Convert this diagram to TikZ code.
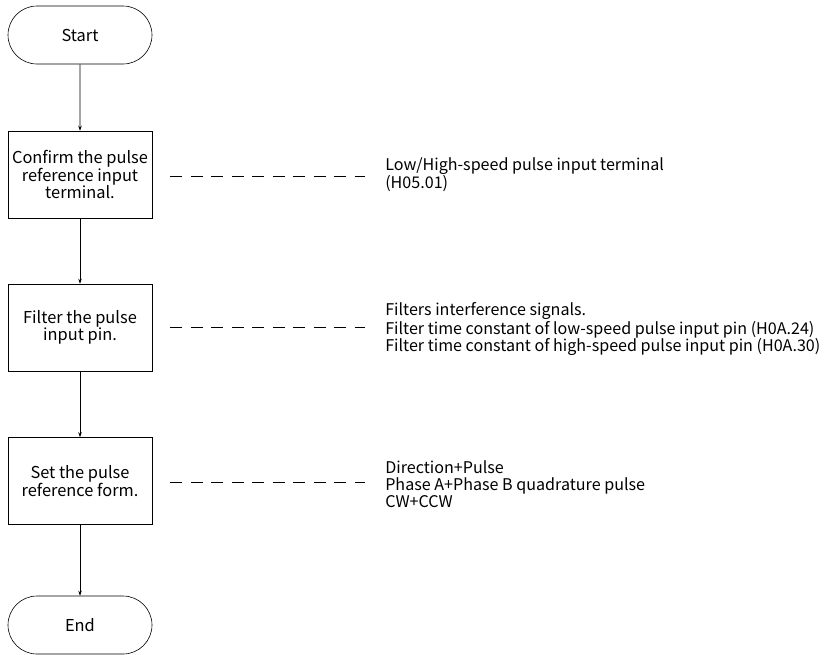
\documentclass[tikz,border=0pt]{standalone}
\usepackage{fontspec}
\setmainfont{Noto Sans CJK SC}
\usetikzlibrary{arrows.meta,shapes.misc}

\begin{document}
\begin{tikzpicture}[x=1pt, y=-1pt, >={Stealth[length=5pt,width=3.5pt]},
  font=\fontsize{16.1}{17}\selectfont, line width=0.6pt,
  terminal/.style={draw, rounded rectangle, minimum width=144pt, minimum height=58pt, inner sep=0pt,
    font=\fontsize{16.4}{17}\selectfont},
  stepbox/.style={draw, rectangle, minimum width=144pt, minimum height=87pt, align=center, inner sep=2pt,
    font=\fontsize{16.4}{17}\selectfont},
  note/.style={anchor=west, align=left, inner sep=0pt},
  link/.style={dash pattern=on 12pt off 8.5pt}]

  % Page frame
  \useasboundingbox (0,0) rectangle (834,654);

  % Parameters
  \def\colx{80}     % centre of the flow column
  \def\notex{385}   % left edge of the notes

  % Flow column
  \node[terminal] (start) at (\colx,35) {Start};
  \node[stepbox] (confirm) at (\colx,174.5) {Confirm the pulse\\reference input\\terminal.};
  \node[stepbox] (filter) at (\colx,327.5) {Filter the pulse\\input pin.};
  \node[stepbox] (form) at (\colx,481) {Set the pulse\\reference form.};
  \node[terminal] (end) at (\colx,625) {End};

  % Connectors
  \draw[->] (start) -- (confirm);
  \draw[->] (confirm) -- (filter);
  \draw[->] (filter) -- (form);
  \draw[->] (form) -- (end);

  % Notes on the right
  \node[note] (confirmnote) at (\notex,174.5) {Low/High-speed pulse input terminal\\(H05.01)};
  \node[note] (filternote) at (\notex,329) {Filters interference signals.\\Filter time constant of low-speed pulse input pin (H0A.24)\\Filter time constant of high-speed pulse input pin (H0A.30)};
  \node[note] (formnote) at (\notex,484.5) {Direction+Pulse\\Phase A+Phase B quadrature pulse\\CW+CCW};

  % Dashed links
  \draw[link] ([xshift=18pt]confirm.east) ++(0,1.5) -- ++(195,0);
  \draw[link] ([xshift=18pt]filter.east) -- ++(195,0);
  \draw[link] ([xshift=18pt]form.east) ++(0,1) -- ++(195,0);

\end{tikzpicture}
\end{document}
